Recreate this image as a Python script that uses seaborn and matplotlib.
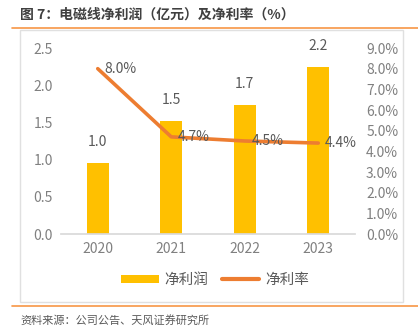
import matplotlib
matplotlib.use("Agg")
import matplotlib.pyplot as plt
import seaborn as sns
import pandas as pd
from matplotlib.lines import Line2D
from matplotlib.patches import Rectangle

years = ["2020", "2021", "2022", "2023"]
profit = [0.96, 1.52, 1.74, 2.24]
profit_labels = ["1.0", "1.5", "1.7", "2.2"]
margin = [8.0, 4.7, 4.5, 4.4]
margin_labels = ["8.0%", "4.7%", "4.5%", "4.4%"]
left_ticks = [0.0, 0.5, 1.0, 1.5, 2.0, 2.5]
right_ticks = [0, 1, 2, 3, 4, 5, 6, 7, 8, 9]

sns.set_theme(style="white")
plt.rcParams['font.family'] = ['Liberation Sans Narrow', 'Noto Sans CJK SC', 'DejaVu Sans']
CJK = ['Noto Sans CJK SC', 'DejaVu Sans']

BAR = "#FFC000"
LINE = "#ED7D31"
TXT = "#595959"
TICK = "#808080"

df = pd.DataFrame({"year": years, "profit": profit, "margin": margin})

fig = plt.figure(figsize=(4.18, 3.33), dpi=100)
ax = fig.add_axes([61/418, 1-234/333, 294/418, 186/333])

sns.barplot(data=df, x="year", y="profit", color=BAR, width=0.3, ax=ax,
            saturation=1, edgecolor="none")
ax.set_ylim(0, 2.5)
ax.set_xlim(-0.5, 3.5)
ax.set_yticks(left_ticks)
ax.set_yticklabels([f"{t:.1f}" for t in left_ticks])
ax.set_xlabel("")
ax.set_ylabel("")
for s in ["top", "right", "left"]:
    ax.spines[s].set_visible(False)
ax.spines["bottom"].set_color("#D9D9D9")
ax.tick_params(axis="both", length=0, labelsize=10, colors=TICK, pad=6)
for i, (v, lab) in enumerate(zip(profit, profit_labels)):
    ax.annotate(lab, (i, v), xytext=(0, 10), textcoords="offset points",
                ha="center", va="bottom", fontsize=10, color=TXT)

ax2 = ax.twinx()
sns.lineplot(data=df, x="year", y="margin", color=LINE, linewidth=2.6, ax=ax2,
             solid_capstyle="round")
ax2.set_ylim(0, 9)
ax2.set_xlim(-0.5, 3.5)
ax2.set_yticks(right_ticks)
ax2.set_yticklabels([f"{t:.1f}%" for t in right_ticks])
ax2.set_ylabel("")
ax2.set_xlabel("")
for s in ["top", "right", "left", "bottom"]:
    ax2.spines[s].set_visible(False)
ax2.tick_params(axis="both", length=0, labelsize=10, colors=TICK, pad=8)
for i, (v, lab) in enumerate(zip(margin, margin_labels)):
    ax2.annotate(lab, (i, v), xytext=(5, 0), textcoords="offset points",
                 ha="left", va="center", fontsize=10, color=TXT)

# Title, rules, frame
fig.text(20/418, 1-15/333, "图 7：电磁线净利润（亿元）及净利率（%）", fontsize=10,
         fontweight="bold", color="#404040", family=CJK, va="center", ha="left")
fig.add_artist(Line2D([12/418, 1], [1-28/333, 1-28/333], color="#F79646", lw=1.2))
fig.add_artist(Line2D([12/418, 1], [1-306/333, 1-306/333], color="#F79646", lw=1.2))
fig.add_artist(Rectangle((20/418, 1-302/333), 383/418, 272/333, fill=False,
                         edgecolor="#E0E0E0", lw=1, transform=fig.transFigure))
fig.text(20/418, 1-320/333, "资料来源：公司公告、天风证券研究所", fontsize=8,
         color="#595959", family=CJK, va="center", ha="left")

# Legend
handles = [Rectangle((0, 0), 1, 1, facecolor=BAR, edgecolor="none"),
           Line2D([0], [0], color=LINE, lw=3, solid_capstyle="round")]
leg = fig.legend(handles, ["净利润", "净利率"], loc="center", bbox_to_anchor=(215/418, 1-280/333),
                 ncol=2, frameon=False, prop={"family": CJK, "size": 10.5},
                 handlelength=2.6, handleheight=0.45, columnspacing=0.9, handletextpad=0.4)
for t in leg.get_texts():
    t.set_color(TXT)

fig.savefig("out.png", dpi=100)
